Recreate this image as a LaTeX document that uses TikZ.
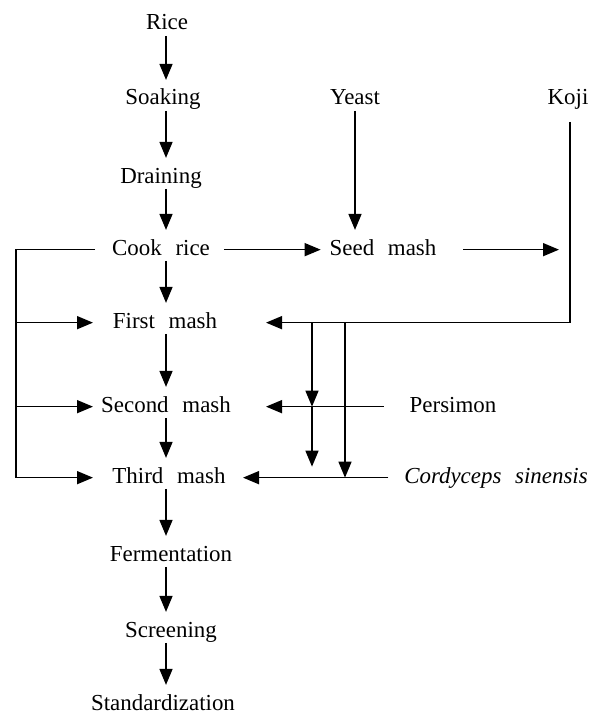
\documentclass[tikz,border=0pt]{standalone}
\usepackage{fontspec}
\setmainfont{Liberation Serif}
\usetikzlibrary{arrows.meta,calc}
\newcommand{\lblfont}{\fontsize{23}{27}\selectfont\spaceskip=0.6em\relax}
\begin{document}
\begin{tikzpicture}[x=1bp,y=-1bp,
  lbl/.style={font=\lblfont,
    inner sep=0pt, outer sep=0pt, text height=15.6bp, text depth=4.9bp, anchor=base},
  conn/.style={line width=1.5bp},
  arr/.style={conn, -{Triangle[length=16bp,width=13bp]}},
  vflow/.style={arr, shorten <=1bp, shorten >=9.5bp}]
\useasboundingbox (0,0) rectangle (594,716);
% helper columns
\coordinate (cx) at (166,0);
\coordinate (lx) at (16,0);
\coordinate (ltip) at (93,0);
\coordinate (kx) at (570,0);
\coordinate (v1) at (312,0);
\coordinate (v2) at (345,0);
\coordinate (rtip) at (266,0);
\coordinate (rtipb) at (243,0);
% nodes
\node[lbl] (rice) at (167,30) {Rice};
\node[lbl] (soak) at (163,105) {Soaking};
\node[lbl] (yeast) at (355,105) {Yeast};
\node[lbl] (koji) at (568,105) {Koji};
\node[lbl] (drain) at (161,183) {Draining};
\node[lbl] (cook) at (161,255) {Cook rice};
\node[lbl] (seed) at (383,255) {Seed mash};
\node[lbl] (first) at (165,328) {First mash};
\node[lbl] (second) at (166,412) {Second mash};
\node[lbl] (persim) at (453,412) {Persimon};
\node[lbl] (third) at (169,483) {Third mash};
\node[lbl] (cordy) at (496,483) {\itshape Cordyceps sinensis};
\node[lbl] (ferm) at (171,561) {Fermentation};
\node[lbl] (screen) at (171,637) {Screening};
\node[lbl] (std) at (163,710) {Standardization};
% main column
\draw[vflow] (rice.south -| cx) -- (soak.north -| cx);
\draw[vflow] (soak.south -| cx) -- (drain.north -| cx);
\draw[vflow] (drain.south -| cx) -- (cook.north -| cx);
\draw[vflow] (cook.south -| cx) -- (first.north -| cx);
\draw[vflow] (first.south -| cx) -- (second.north -| cx);
\draw[vflow] (second.south -| cx) -- (third.north -| cx);
\draw[vflow] (third.south -| cx) -- (ferm.north -| cx);
\draw[vflow] (ferm.south -| cx) -- (screen.north -| cx);
\draw[vflow] (screen.south -| cx) -- (std.north -| cx);
% yeast
\draw[vflow] (yeast.south) -- (yeast.south |- seed.north);
% cook rice -> seed mash -> koji line
\draw[arr, shorten <=14bp, shorten >=9bp] (cook.east) -- (seed.west);
\draw[arr, shorten <=27bp, shorten >=11bp] (seed.east) -- (seed.east -| kx);
% koji line to first mash
\draw[arr, shorten <=12bp] (koji.south -| kx) -- (kx |- first.east) -- (first.east -| rtip);
% descending branches
\draw[arr] (v1 |- first.east) -- (v1 |- second.east);
\draw[arr, shorten >=11bp] (v1 |- second.east) -- (v1 |- third.east);
\draw[arr] (v2 |- first.east) -- (v2 |- third.east);
% persimon and cordyceps
\draw[arr, shorten <=26bp] (persim.west) -- (persim.west -| rtip);
\draw[arr, shorten <=16bp] (cordy.west) -- (cordy.west -| rtipb);
% left bracket
\draw[conn, shorten <=17bp] (cook.west) -- (cook.west -| lx) -- (lx |- third.west);
\draw[arr] (lx |- first.west) -- (first.west -| ltip);
\draw[arr] (lx |- second.west) -- (second.west -| ltip);
\draw[arr] (lx |- third.west) -- (third.west -| ltip);
\end{tikzpicture}
\end{document}
